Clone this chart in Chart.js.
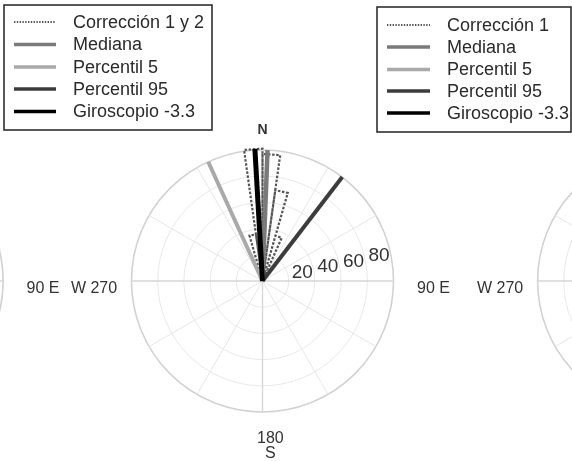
<!DOCTYPE html>
<html><head><meta charset="utf-8">
<script src="https://cdn.jsdelivr.net/npm/chart.js@4/dist/chart.umd.min.js"></script>
<style>html,body{margin:0;padding:0;background:#fff;}canvas{display:block}</style>
</head><body>
<canvas id="c" width="572" height="461"></canvas>
<script>
// ---- data (compass degrees, clockwise from North) ----
const roseBinEdges = [-16, -8, 0, 8, 16, 24];
const roseCounts   = [36, 101, 97, 70, 36];
const lineLabels = ['Mediana', 'Percentil 5', 'Percentil 95', 'Giroscopio -3.3'];
const lineAngles = [2.2, -24.5, 37.5, -3.3];
const lineRadii  = [100, 100, 100, 101];
const roseLabel = 'Corrección 1 y 2';
const ringTicks = [20, 40, 60, 80, 100];
const ringLabels = ['20', '40', '60', '80'];
const spokeAngles = [0, 30, 60, 90, 120, 150, 180, 210, 240, 270, 300, 330];
const legendRightLabels = ['Corrección 1', 'Mediana', 'Percentil 5', 'Percentil 95', 'Giroscopio -3.3'];

const toXY = (deg, r) => ({x: r * Math.sin(deg * Math.PI / 180), y: r * Math.cos(deg * Math.PI / 180)});

const rosePts = [{x: 0, y: 0}];
roseCounts.forEach((c, i) => {
  rosePts.push(toXY(roseBinEdges[i], c));
  rosePts.push(toXY(roseBinEdges[i + 1], c));
  rosePts.push({x: 0, y: 0});
});

const lineStyles = [
  {color: '#7a7a7a', width: 4.5},
  {color: '#a9a9a9', width: 4},
  {color: '#3c3c3c', width: 4},
  {color: '#000000', width: 5}
];
const roseStyle = {color: '#555555', width: 2.2, dash: [2.5, 1.6]};

const datasets = [{
  label: roseLabel, data: rosePts, showLine: true, pointRadius: 0,
  borderColor: roseStyle.color, borderWidth: roseStyle.width, borderDash: roseStyle.dash,
  fill: false, tension: 0, order: 10
}];
lineLabels.forEach((lab, i) => {
  datasets.push({
    label: lab, data: [{x: 0, y: 0}, toXY(lineAngles[i], lineRadii[i])],
    showLine: true, pointRadius: 0, borderColor: lineStyles[i].color,
    borderWidth: lineStyles[i].width, borderCapStyle: 'butt', fill: false,
    order: [3, 5, 4, 1][i]
  });
});

const K = 1.31, CX = 262.5, CY = 281, W = 572, H = 461;

const polarPlugin = {
  id: 'polarGrid',
  beforeDatasetsDraw(chart) {
    const ctx = chart.ctx, xs = chart.scales.x, ys = chart.scales.y;
    const P = (x, y) => [xs.getPixelForValue(x), ys.getPixelForValue(y)];
    const rPix = v => Math.abs(xs.getPixelForValue(v) - xs.getPixelForValue(0));
    const drawGrid = (ox) => {
      const [cx, cy] = P(ox, 0);
      ctx.save();
      ringTicks.forEach((t, i) => {
        ctx.beginPath();
        ctx.arc(cx, cy, rPix(t), 0, Math.PI * 2);
        ctx.strokeStyle = i === ringTicks.length - 1 ? '#d2d2d2' : '#e8e8e8';
        ctx.lineWidth = i === ringTicks.length - 1 ? 1.6 : 1;
        ctx.stroke();
      });
      spokeAngles.forEach(a => {
        const p = toXY(a, ringTicks[ringTicks.length - 1]);
        const [px, py] = P(ox + p.x, p.y);
        ctx.beginPath();
        ctx.moveTo(cx, cy);
        ctx.lineTo(px, py);
        ctx.strokeStyle = (a % 90 === 0) ? '#d6d6d6' : '#e6e6e6';
        ctx.lineWidth = (a % 90 === 0) ? 1.4 : 1;
        ctx.stroke();
      });
      ctx.restore();
    };
    drawGrid(-298);
    drawGrid(310);
    drawGrid(0);

    ctx.save();
    ctx.fillStyle = '#333';
    ctx.textAlign = 'center';
    ctx.textBaseline = 'middle';
    ctx.font = '19px "Liberation Sans", Arial, sans-serif';
    ringLabels.forEach((lab, i) => {
      const p = toXY(78, ringTicks[i] + 11);
      const [px, py] = P(p.x, p.y);
      ctx.fillText(lab, px, py);
    });
    ctx.font = 'bold 14px "Liberation Sans", Arial, sans-serif';
    let [nx, ny] = P(0, 115);
    ctx.fillText('N', nx, ny);
    ctx.font = '16px "Liberation Sans", Arial, sans-serif';
    let [sx, sy] = P(6, -120.5);
    ctx.fillText('180', sx, sy);
    [sx, sy] = P(6, -132);
    ctx.fillText('S', sx, sy);
    ctx.font = '16px "Liberation Sans", Arial, sans-serif';
    const side = (ox) => {
      let [ex, ey] = P(ox + 130.5, -6);
      ctx.fillText('90 E', ex, ey);
      let [wx, wy] = P(ox - 128.6, -6);
      ctx.fillText('W 270', wx, wy);
    };
    side(-298); side(0); side(310);
    ctx.restore();
  },
  afterDatasetsDraw(chart) {
    const ctx = chart.ctx;
    const ds = chart.data.datasets;
    const drawLegend = (bx, by, bw, bh, x0, x1, tx, rows, labels) => {
      ctx.save();
      ctx.fillStyle = '#fff';
      ctx.fillRect(bx, by, bw, bh);
      ctx.strokeStyle = '#222';
      ctx.lineWidth = 1.5;
      ctx.strokeRect(bx, by, bw, bh);
      ctx.font = '18px "Liberation Sans", Arial, sans-serif';
      ctx.textBaseline = 'middle';
      ctx.textAlign = 'left';
      labels.forEach((lab, i) => {
        const d = ds[i];
        ctx.beginPath();
        ctx.strokeStyle = d.borderColor;
        if (i === 0) { ctx.setLineDash([1.4, 1.4]); ctx.lineWidth = 2; }
        else { ctx.setLineDash([]); ctx.lineWidth = Math.min(d.borderWidth, 4) - 0.5; }
        ctx.moveTo(x0, rows[i]);
        ctx.lineTo(x1, rows[i]);
        ctx.stroke();
        ctx.setLineDash([]);
        ctx.fillStyle = '#2a2a2a';
        ctx.fillText(lab, tx, rows[i] + 1);
      });
      ctx.restore();
    };
    drawLegend(4, 5, 208, 125, 14, 56, 73, [22, 44.5, 67, 89, 111.5], ds.map(d => d.label));
    drawLegend(377, 7, 194, 125, 387, 430, 447, [25, 47, 69.5, 91, 113], legendRightLabels);
  }
};

new Chart(document.getElementById('c'), {
  type: 'scatter',
  data: {datasets},
  options: {
    responsive: false, animation: false,
    layout: {padding: 0},
    plugins: {legend: {display: false}, tooltip: {enabled: false}},
    scales: {
      x: {type: 'linear', display: false, min: -CX / K, max: (W - CX) / K},
      y: {type: 'linear', display: false, min: -(H - CY) / K, max: CY / K}
    }
  },
  plugins: [polarPlugin]
});
</script>
</body></html>
